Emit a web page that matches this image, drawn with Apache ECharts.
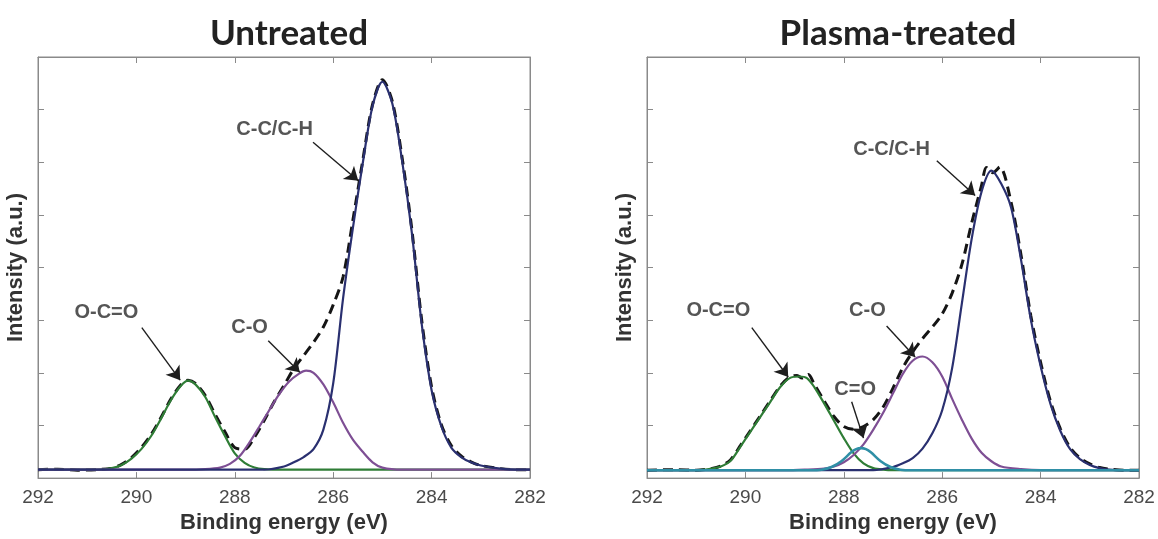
<!DOCTYPE html>
<html>
<head>
<meta charset="utf-8">
<script src="https://cdn.jsdelivr.net/npm/echarts@6/dist/echarts.min.js"></script>
<style>
html,body{margin:0;padding:0;background:#fff;}
#chart{width:1158px;height:539px;}
</style>
</head>
<body>
<div id="chart"></div>
<script>
// ---------- data (binding energy eV, intensity a.u.) ----------
const panelTitles = ['Untreated', 'Plasma-treated'];
const xMin = 282, xMax = 292, xStep = 2;
const yMin = 0, yMax = 8, yStep = 1;

// Untreated
const untreatedData = [[292,0.16],[291.6,0.17],[291.2,0.15],[290.8,0.16],[290.5,0.19],[290.3,0.26],[290.1,0.39],[289.9,0.58],[289.7,0.83],[289.5,1.15],[289.3,1.50],[289.1,1.77],[288.95,1.86],[288.8,1.80],[288.6,1.57],[288.4,1.21],[288.2,0.88],[288.0,0.58],[287.8,0.55],[287.6,0.78],[287.4,1.10],[287.2,1.45],[287.0,1.76],[286.8,2.08],[286.6,2.33],[286.4,2.58],[286.2,2.87],[286.0,3.29],[285.8,3.82],[285.6,4.90],[285.4,6.03],[285.2,7.10],[285.0,7.57],[284.8,7.16],[284.6,6.09],[284.4,4.71],[284.2,2.99],[284.0,1.73],[283.8,1.01],[283.6,0.62],[283.4,0.42],[283.2,0.31],[283.0,0.24],[282.6,0.18],[282.3,0.16],[282,0.16]];
const untreatedCC = [[292,0.16],[291,0.16],[290,0.16],[289,0.16],[288,0.16],[287.4,0.16],[287.0,0.22],[286.8,0.30],[286.6,0.40],[286.4,0.55],[286.2,0.92],[286.0,1.80],[285.8,3.41],[285.6,4.75],[285.4,5.98],[285.2,7.07],[285.0,7.53],[284.8,7.12],[284.6,6.03],[284.4,4.65],[284.2,2.92],[284.0,1.67],[283.8,0.98],[283.6,0.58],[283.4,0.40],[283.2,0.30],[283.0,0.24],[282.6,0.18],[282.3,0.16],[282,0.16]];
const untreatedCO = [[292,0.16],[291,0.16],[290,0.16],[289.4,0.16],[289,0.16],[288.6,0.17],[288.3,0.20],[288.1,0.27],[287.9,0.42],[287.7,0.68],[287.5,0.98],[287.3,1.29],[287.1,1.59],[286.9,1.83],[286.7,1.98],[286.55,2.04],[286.4,2.00],[286.2,1.78],[286.0,1.44],[285.8,1.05],[285.6,0.73],[285.4,0.50],[285.2,0.30],[285.0,0.20],[284.6,0.16],[284.2,0.16],[283.5,0.16],[283,0.16],[282,0.16]];
const untreatedOCO = [[292,0.16],[291.5,0.16],[291.1,0.16],[290.8,0.16],[290.5,0.19],[290.3,0.25],[290.1,0.37],[289.9,0.55],[289.7,0.80],[289.5,1.13],[289.3,1.48],[289.1,1.75],[288.95,1.85],[288.8,1.78],[288.6,1.54],[288.4,1.16],[288.2,0.80],[288.0,0.47],[287.8,0.29],[287.6,0.20],[287.4,0.17],[287.0,0.16],[286.5,0.16],[286,0.16],[285,0.16],[284,0.16],[283,0.16],[282,0.16]];

// Plasma-treated
const plasmaData = [[292,0.15],[291.4,0.16],[291.0,0.15],[290.7,0.18],[290.5,0.23],[290.3,0.35],[290.1,0.62],[289.9,0.90],[289.7,1.18],[289.5,1.46],[289.3,1.74],[289.1,1.92],[288.95,1.95],[288.85,1.90],[288.72,1.97],[288.6,1.78],[288.4,1.47],[288.2,1.17],[288.0,0.98],[287.8,0.93],[287.6,0.98],[287.4,1.11],[287.2,1.35],[287.0,1.71],[286.8,2.10],[286.6,2.40],[286.4,2.65],[286.2,2.87],[286.0,3.12],[285.8,3.51],[285.6,4.06],[285.4,4.85],[285.2,5.56],[285.1,5.90],[284.97,5.80],[284.83,5.91],[284.6,5.24],[284.4,4.25],[284.2,3.09],[284.0,2.20],[283.8,1.46],[283.6,0.94],[283.4,0.58],[283.2,0.38],[283.0,0.27],[282.8,0.20],[282.6,0.17],[282.3,0.15],[282,0.15]];
const plasmaCC = [[292,0.15],[291,0.15],[290,0.15],[289,0.15],[288,0.15],[287.4,0.15],[287.0,0.21],[286.8,0.28],[286.6,0.38],[286.4,0.56],[286.2,0.85],[286.0,1.29],[285.8,2.08],[285.6,3.32],[285.4,4.55],[285.2,5.44],[285.0,5.84],[284.8,5.59],[284.6,5.14],[284.4,4.16],[284.2,3.02],[284.0,2.13],[283.8,1.41],[283.6,0.90],[283.4,0.55],[283.2,0.36],[283.0,0.25],[282.8,0.19],[282.6,0.16],[282.3,0.15],[282,0.15]];
const plasmaCO = [[292,0.15],[291,0.15],[290,0.15],[289.6,0.15],[289.2,0.15],[288.8,0.16],[288.4,0.18],[288.2,0.22],[288.0,0.30],[287.8,0.44],[287.6,0.64],[287.4,0.92],[287.2,1.24],[287.0,1.61],[286.8,1.98],[286.6,2.23],[286.4,2.31],[286.2,2.20],[286.0,1.93],[285.8,1.51],[285.6,1.11],[285.4,0.75],[285.2,0.48],[285.0,0.32],[284.8,0.22],[284.4,0.17],[284.0,0.15],[283.5,0.15],[283,0.15],[282,0.15]];
const plasmaCdO = [[292,0.15],[291,0.15],[290,0.15],[289.3,0.15],[288.7,0.15],[288.45,0.16],[288.25,0.21],[288.05,0.32],[287.85,0.49],[287.75,0.55],[287.65,0.57],[287.55,0.55],[287.45,0.49],[287.25,0.32],[287.05,0.21],[286.85,0.16],[286.6,0.15],[286.2,0.15],[285.5,0.15],[285,0.15],[284,0.15],[283,0.15],[282,0.15]];
const plasmaOCO = [[292,0.15],[291.6,0.15],[291.3,0.15],[291.0,0.15],[290.7,0.18],[290.5,0.22],[290.3,0.33],[290.1,0.60],[289.9,0.88],[289.7,1.16],[289.5,1.44],[289.3,1.72],[289.1,1.90],[288.9,1.93],[288.75,1.90],[288.6,1.73],[288.4,1.42],[288.2,1.09],[288.0,0.76],[287.8,0.47],[287.6,0.28],[287.4,0.19],[287.2,0.16],[287.0,0.15],[286.6,0.15],[286,0.15],[285,0.15],[284,0.15],[283,0.15],[282,0.15]];

// annotations: label position, arrow start, arrow tip (data coords)
const untreatedNotes = [
  {text:'C-C/C-H', at:[287.19,6.63], from:[286.41,6.38], to:[285.49,5.65]},
  {text:'C-O',     at:[287.70,2.86], from:[287.32,2.61], to:[286.68,2.01]},
  {text:'O-C=O',   at:[290.61,3.14], from:[289.89,2.86], to:[289.11,1.86]}
];
const plasmaNotes = [
  {text:'C-C/C-H', at:[287.03,6.25], from:[286.11,6.03], to:[285.33,5.37]},
  {text:'C-O',     at:[287.52,3.18], from:[287.13,2.89], to:[286.55,2.30]},
  {text:'C=O',     at:[287.77,1.69], from:[287.84,1.45], to:[287.60,0.76]},
  {text:'O-C=O',   at:[290.55,3.18], from:[289.87,2.86], to:[289.13,1.92]}
];

// ---------- styling ----------
const boxColor = '#8a8a8a';
const colGreen = '#2f7d36', colPurple = '#7e4f94', colNavy = '#2a3070', colCyan = '#2f8fa6', colData = '#151515';
const sansBold = 'Liberation Sans, Arial, sans-serif';

const grids = [
  {left: 38, top: 57, width: 492, height: 425},
  {left: 647, top: 57, width: 492, height: 425}
];

function xAxes(gi){
  const base = {gridIndex: gi, type:'value', min:xMin, max:xMax, interval:xStep, inverse:true,
    axisLine:{show:true, onZero:false, lineStyle:{color:boxColor, width:1}},
    axisTick:{show:true, inside:true, length:6, lineStyle:{color:boxColor}},
    splitLine:{show:false}};
  return [
    Object.assign({}, base, {position:'bottom',
      axisLabel:{show:true, fontSize:19, color:'#4a4a4a', margin:10, fontFamily:'Liberation Sans, Arial, sans-serif'},
      name:'Binding energy (eV)', nameLocation:'middle', nameGap:30,
      nameTextStyle:{fontSize:22, fontWeight:'bold', color:'#333', fontFamily:sansBold}}),
    Object.assign({}, base, {position:'top', axisLabel:{show:false}})
  ];
}
function yAxes(gi){
  const base = {gridIndex: gi, type:'value', min:yMin, max:yMax, interval:yStep,
    axisLine:{show:true, onZero:false, lineStyle:{color:boxColor, width:1}},
    axisTick:{show:true, inside:true, length:6, lineStyle:{color:boxColor}},
    axisLabel:{show:false}, splitLine:{show:false}};
  return [
    Object.assign({}, base, {position:'left', name:'Intensity (a.u.)', nameLocation:'middle', nameGap:11,
      nameTextStyle:{fontSize:22, fontWeight:'bold', color:'#333', fontFamily:sansBold}}),
    Object.assign({}, base, {position:'right'})
  ];
}

function curve(data, color, gi, dashed, z, width){
  return {type:'line', xAxisIndex: gi*2, yAxisIndex: gi*2, data: data, showSymbol:false, symbol:'none',
    smooth:0.3, silent:true,
    lineStyle:{color: color, width: width || (dashed ? 3 : 2.2), type: dashed ? [10,6] : 'solid'},
    z: z || (dashed ? 2 : 3)};
}
function notes(list, gi){
  return {type:'scatter', xAxisIndex: gi*2, yAxisIndex: gi*2, symbolSize:0, silent:true, z:5,
    data: list.map(n => [n.at[0], n.at[1], n.text]),
    label:{show:true, position:'inside', formatter: p => p.value[2], fontSize:20, fontWeight:'bold',
      color:'#2a2a2a', fontFamily:sansBold},
    markLine:{silent:true, animation:false, symbol:['none','arrow'], symbolSize:13,
      lineStyle:{color:'#1e1e1e', width:1.4, type:'solid'}, label:{show:false},
      data: list.map(n => [{coord:n.from},{coord:n.to}])}
  };
}

const chart = echarts.init(document.getElementById('chart'), null, {renderer:'canvas'});
chart.setOption({
  animation:false,
  backgroundColor:'#ffffff',
  title: panelTitles.map((t,i) => ({text:t, left: grids[i].left + grids[i].width/2, top:11, textAlign:'center',
    textStyle:{fontSize:35, fontWeight:'bold', color:'#222', fontFamily:'Lato, Open Sans, sans-serif'}})),
  grid: grids.map(g => Object.assign({show:true, borderColor:boxColor, borderWidth:1, backgroundColor:'#fff'}, g)),
  xAxis: xAxes(0).concat(xAxes(1)),
  yAxis: yAxes(0).concat(yAxes(1)),
  series: [
    curve(untreatedData, colData, 0, true),
    curve(untreatedOCO, colGreen, 0),
    curve(untreatedCO, colPurple, 0),
    curve(untreatedCC, colNavy, 0),
    notes(untreatedNotes, 0),
    curve(plasmaData, colData, 1, true),
    curve(plasmaOCO, colGreen, 1),
    curve(plasmaCO, colPurple, 1),
    curve(plasmaCC, colNavy, 1),
    curve(plasmaCdO, colCyan, 1, false, 4, 2.6),
    notes(plasmaNotes, 1)
  ]
});
</script>
</body>
</html>
